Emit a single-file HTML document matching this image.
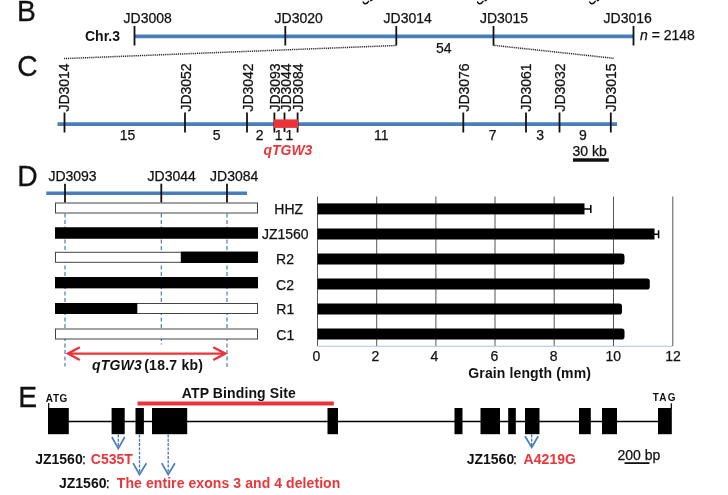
<!DOCTYPE html>
<html><head><meta charset="utf-8">
<style>
html,body{margin:0;padding:0;background:#fff;}
body{width:728px;height:495px;overflow:hidden;font-family:"Liberation Sans",sans-serif;}
svg{display:block;will-change:transform;font-family:"Liberation Sans",sans-serif;}
text{font-family:"Liberation Sans",sans-serif;fill:#111;}
.t{font-size:14px;stroke:#111;stroke-width:0.25px;}
.b{font-size:14px;font-weight:bold;}
.L{font-size:29.6px;stroke:#111;stroke-width:0.3px;}
.s{font-size:10px;font-weight:bold;}
.r{fill:#e9353b;}
.tk{stroke:#111;stroke-width:1.8;}
.bl{stroke:#4a7ebb;}
.dsh{stroke:#4377b8;stroke-width:1.15;stroke-dasharray:4 2.5;fill:none;}
.ar{stroke:#4a7ebb;stroke-width:1.7;fill:none;}
.gr{stroke:#555;stroke-width:1;}
</style></head>
<body>
<svg width="728" height="495" viewBox="0 0 728 495">
<rect width="728" height="495" fill="#fff"/>

<!-- cut-off glyph remnants at very top -->
<g fill="none" stroke="#111" stroke-width="1.5" stroke-linecap="round">
<path d="M363.2 2 Q364.4 4.8 367.3 3 L368.6 1.4 M370.8 0.6 L372 0"/>
<path d="M477.6 2 Q478.8 4.8 481.7 3 L483 1.4 M485.2 0.6 L486.4 0"/>
<path d="M589.8 2 Q591 4.8 593.9 3 L595.2 1.4 M597.4 0.6 L598.6 0"/>
</g>

<!-- ===== B ===== -->
<text class="L" transform="translate(17 21.2) scale(0.955 1)">B</text>
<line class="bl" x1="134.5" y1="36.4" x2="633.5" y2="36.4" stroke-width="3.6"/>
<g class="tk">
<line x1="134.5" y1="26" x2="134.5" y2="45.5"/>
<line x1="285.3" y1="26" x2="285.3" y2="45.5"/>
<line x1="396.3" y1="26" x2="396.3" y2="45.5"/>
<line x1="493.5" y1="26" x2="493.5" y2="45.5"/>
<line x1="633.5" y1="26" x2="633.5" y2="45.5"/>
</g>
<text class="t" x="123.6" y="23">JD3008</text>
<text class="t" x="274.6" y="23">JD3020</text>
<text class="t" x="383.6" y="23">JD3014</text>
<text class="t" x="479.9" y="23">JD3015</text>
<text class="t" x="603.6" y="23">JD3016</text>
<text class="b" x="85" y="41.3">Chr.3</text>
<text class="t" x="436" y="52.5">54</text>
<text class="t" x="640" y="40"><tspan font-style="italic">n</tspan> = 2148</text>
<g stroke="#222" stroke-width="1.5" stroke-dasharray="1.05 0.85" fill="none">
<line x1="64.1" y1="58.6" x2="396" y2="45.5"/>
<line x1="493.5" y1="45.3" x2="613.8" y2="58.3"/>
</g>

<!-- ===== C ===== -->
<text class="L" transform="translate(17.2 76.1) scale(0.955 1)">C</text>
<line class="bl" x1="57.5" y1="124.2" x2="617" y2="124.2" stroke-width="3.8"/>
<g class="tk">
<line x1="64.5" y1="112.5" x2="64.5" y2="132.5"/>
<line x1="185" y1="112.5" x2="185" y2="132.5"/>
<line x1="247" y1="112.5" x2="247" y2="132.5"/>
<line x1="274.4" y1="112.5" x2="274.4" y2="132.5"/>
<line x1="284.5" y1="112.5" x2="284.5" y2="132"/>
<line x1="297.6" y1="112.5" x2="297.6" y2="132.5"/>
<line x1="463.3" y1="112.5" x2="463.3" y2="132.5"/>
<line x1="526" y1="112.5" x2="526" y2="132.5"/>
<line x1="559.5" y1="112.5" x2="559.5" y2="132.5"/>
<line x1="610.8" y1="112.5" x2="610.8" y2="132.5"/>
</g>
<rect x="273.7" y="119.4" width="24.6" height="8.5" fill="#ea343a"/>
<g class="t">
<text transform="translate(69.3 111.6) rotate(-90)">JD3014</text>
<text transform="translate(191.2 111.6) rotate(-90)">JD3052</text>
<text transform="translate(253.2 111.6) rotate(-90)">JD3042</text>
<text transform="translate(280 111.6) rotate(-90)">JD3093</text>
<text transform="translate(291.2 111.6) rotate(-90)">JD3044</text>
<text transform="translate(302.9 111.6) rotate(-90)">JD3084</text>
<text transform="translate(468.7 111.6) rotate(-90)">JD3076</text>
<text transform="translate(531.2 111.6) rotate(-90)">JD3061</text>
<text transform="translate(565.4 111.6) rotate(-90)">JD3032</text>
<text transform="translate(616.2 111.6) rotate(-90)">JD3015</text>
<text x="119.7" y="140">15</text>
<text x="212.7" y="140">5</text>
<text x="255.7" y="140">2</text>
<text x="274.8" y="140">1</text>
<text x="285.5" y="140">1</text>
<text x="373.9" y="140">11</text>
<text x="488.8" y="140">7</text>
<text x="536.2" y="140">3</text>
<text x="579" y="140">9</text>
<text x="572.5" y="156.3">30 kb</text>
</g>
<text class="b r" font-style="italic" x="263.4" y="155">qTGW3</text>
<line x1="573" y1="160" x2="608.8" y2="160" stroke="#111" stroke-width="3.5"/>

<!-- ===== D ===== -->
<text class="L" transform="translate(17.3 186.3) scale(0.955 1)">D</text>
<line class="bl" x1="46.3" y1="193.3" x2="247" y2="193.3" stroke-width="3.6"/>
<g class="tk">
<line x1="65" y1="183.7" x2="65" y2="202.5"/>
<line x1="161.3" y1="183.7" x2="161.3" y2="202.5"/>
<line x1="227" y1="183.7" x2="227" y2="202.5"/>
</g>
<text class="t" x="48.4" y="180.5">JD3093</text>
<text class="t" x="147.6" y="180.5">JD3044</text>
<text class="t" x="210.1" y="180.5">JD3084</text>
<g class="dsh">
<line x1="65" y1="213.5" x2="65" y2="366.5"/>
<line x1="161.3" y1="213.5" x2="161.3" y2="344.5"/>
<line x1="227" y1="213.5" x2="227" y2="367"/>
</g>
<!-- genotype bars -->
<g stroke="#444" stroke-width="1">
<rect x="55.5" y="203" width="202" height="10" fill="#fff"/>
<rect x="55.5" y="228" width="202" height="10" fill="#000" stroke="#000"/>
<rect x="55.5" y="252.3" width="202" height="10" fill="#fff"/>
<rect x="181.3" y="252.3" width="76.2" height="10" fill="#000" stroke="#000"/>
<rect x="55.5" y="277.7" width="202" height="10" fill="#000" stroke="#000"/>
<rect x="55.5" y="303.5" width="202" height="10" fill="#fff"/>
<rect x="55.5" y="303.5" width="81.3" height="10" fill="#000" stroke="#000"/>
<rect x="55.5" y="329" width="202" height="10" fill="#fff"/>
</g>
<!-- redraw black bars above dashes -->
<g fill="#000">
<rect x="55" y="227.5" width="203" height="11"/>
<rect x="181.3" y="251.8" width="76.7" height="11"/>
<rect x="55" y="277.2" width="203" height="11"/>
<rect x="55" y="303" width="81.8" height="11"/>
</g>
<g class="t" text-anchor="middle">
<text x="288.7" y="214.3">HHZ</text>
<text x="285.3" y="238.8">JZ1560</text>
<text x="285" y="263.8">R2</text>
<text x="285" y="289.5">C2</text>
<text x="285.3" y="313.8">R1</text>
<text x="285.3" y="339.5">C1</text>
</g>
<g stroke="#ea343a" stroke-width="2.4" fill="none" stroke-linecap="butt">
<line x1="68" y1="353.6" x2="225" y2="353.6"/>
<polyline points="79.8,347.2 68,353.6 79.8,360"/>
<polyline points="213.3,347.2 225.3,353.6 213.3,360"/>
</g>
<text class="b" x="92" y="370.3" font-style="italic" textLength="49.7">qTGW3</text><text class="b" x="144.2" y="370.3" textLength="58.8">(18.7 kb)</text>

<!-- ===== bar chart ===== -->
<g class="gr">
<line x1="317.5" y1="196.5" x2="317.5" y2="346"/>
<line x1="376.7" y1="196.5" x2="376.7" y2="346"/>
<line x1="435.9" y1="196.5" x2="435.9" y2="346"/>
<line x1="495" y1="196.5" x2="495" y2="346"/>
<line x1="554.2" y1="196.5" x2="554.2" y2="346"/>
<line x1="613.5" y1="196.5" x2="613.5" y2="346"/>
<line x1="672.8" y1="196.5" x2="672.8" y2="346"/>
</g>
<line x1="317.5" y1="346.3" x2="673" y2="346.3" stroke="#a9c4e0" stroke-width="1.1"/>
<g fill="#000">
<rect x="317.5" y="203.4" width="267" height="11"/>
<rect x="317.5" y="228.5" width="337" height="11"/>
<path d="M317.5 253.6H621.7Q624.5 253.6 624.5 256.4V261.8Q624.5 264.6 621.7 264.6H317.5Z"/>
<path d="M317.5 278.6H647.0Q649.8 278.6 649.8 281.4V286.8Q649.8 289.6 647.0 289.6H317.5Z"/>
<path d="M317.5 303.6H619.2Q622.0 303.6 622.0 306.4V311.8Q622.0 314.6 619.2 314.6H317.5Z"/>
<path d="M317.5 328.6H621.7Q624.5 328.6 624.5 331.4V336.8Q624.5 339.6 621.7 339.6H317.5Z"/>
</g>
<g stroke="#000" stroke-width="1.5" fill="none">
<path d="M584 208.9 H591 M590.8 205 V213"/>
<path d="M654 234.2 H659 M658.6 230.3 V238.2"/>
</g>
<g class="t" text-anchor="middle">
<text x="316.3" y="360.7">0</text>
<text x="375.3" y="360.7">2</text>
<text x="434.5" y="360.7">4</text>
<text x="494.3" y="360.7">6</text>
<text x="553.7" y="360.7">8</text>
<text x="613.3" y="360.7">10</text>
<text x="673" y="360.7">12</text>
</g>
<text class="b" x="468.3" y="377.6" textLength="122.6">Grain length (mm)</text>

<!-- ===== E ===== -->
<text class="L" transform="translate(18.3 406.9) scale(0.955 1)">E</text>
<line x1="48" y1="421.5" x2="671" y2="421.5" stroke="#000" stroke-width="1.6"/>
<g fill="#000">
<rect x="48" y="408" width="20.8" height="26.2"/>
<rect x="111.6" y="408" width="13.1" height="26.2"/>
<rect x="135.5" y="408" width="8.4" height="26.2"/>
<rect x="152" y="408" width="35.2" height="26.2"/>
<rect x="327.5" y="408" width="10.5" height="26.2"/>
<rect x="454.5" y="408" width="8" height="26.2"/>
<rect x="480.5" y="408" width="19.5" height="26.2"/>
<rect x="508.2" y="408" width="7.6" height="26.2"/>
<rect x="525" y="408" width="14.5" height="26.2"/>
<rect x="579" y="408" width="11.8" height="26.2"/>
<rect x="602" y="408" width="15" height="26.2"/>
<rect x="658" y="408" width="13.8" height="26.2"/>
</g>
<line x1="48.7" y1="403" x2="48.7" y2="409" stroke="#000" stroke-width="1.2"/>
<line x1="671.3" y1="403.3" x2="671.3" y2="409" stroke="#000" stroke-width="1.2"/>
<text class="s" x="45.8" y="402" textLength="21.6">ATG</text>
<text class="s" x="652.7" y="401.2" textLength="22.8">TAG</text>
<line x1="137.5" y1="403.5" x2="333.8" y2="403.5" stroke="#ea343a" stroke-width="3.8"/>
<text class="b" x="181.8" y="398.3" textLength="114">ATP Binding Site</text>
<!-- arrows -->
<g class="dsh" style="stroke-width:1.3;stroke-dasharray:2.9 1.4">
<line x1="118.3" y1="434.5" x2="118.3" y2="448"/>
<line x1="139.5" y1="434.5" x2="139.5" y2="473"/>
<line x1="168.2" y1="434.5" x2="168.2" y2="473"/>
<line x1="531.7" y1="434.5" x2="531.7" y2="447"/>
</g>
<g class="ar">
<polyline points="111.9,437 118.3,448.6 124.7,437"/>
<polyline points="133.1,463.2 139.5,474.5 146.4,463.2"/>
<polyline points="161.7,463.2 168.2,474.5 174.9,463.2"/>
<polyline points="525,436.2 531.7,447.3 538.2,436.2"/>
</g>
<text class="b" x="35.2" y="464">JZ1560</text><text class="t" x="82" y="464">:</text><text class="b r" x="90.8" y="464">C535T</text>
<text class="b" x="59" y="488">JZ1560</text><text class="t" x="105.7" y="488">:</text><text class="b r" x="116.8" y="488" textLength="223.5">The entire exons 3 and 4 deletion</text>
<text class="b" x="466.7" y="463.6">JZ1560</text><text class="t" x="513" y="463.6">:</text><text class="b r" x="523.6" y="463.6" textLength="52.4">A4219G</text>
<text class="t" x="617.5" y="459.8">200 bp</text>
<line x1="624.5" y1="463.1" x2="649.5" y2="463.1" stroke="#111" stroke-width="1.8"/>
</svg>
</body></html>
